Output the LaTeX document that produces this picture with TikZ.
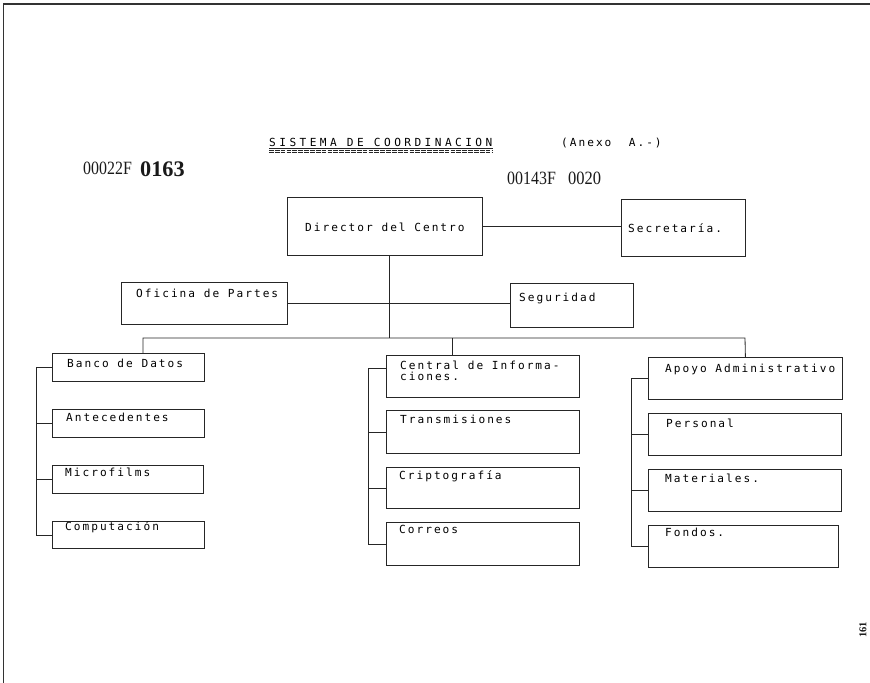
\documentclass[tikz,border=0pt]{standalone}
\usepackage{fontspec}
\newfontfamily\typewr[LetterSpace=18]{DejaVu Sans Mono}
\newfontfamily\typewrwide[LetterSpace=31]{DejaVu Sans Mono}
\newfontfamily\stampfont{Liberation Serif}
\newcommand{\pxu}{0.03cm}
\tikzset{
    unit/.style={draw=black!85, line width=0.7pt, rectangle, anchor=north west, inner sep=0pt},
    typed/.style={anchor=base west, inner sep=0pt, text=black, font=\typewr\fontsize{9.5}{11}\selectfont},
    stamp/.style={anchor=base west, inner sep=0pt, text=black!90},
    link/.style={draw=black!85, line width=0.7pt},
}
\begin{document}
\begin{tikzpicture}[x=\pxu, y=-\pxu]
        \useasboundingbox (0,0) rectangle (870,683);
        % edge of the scanned sheet
        \draw[line width=1.1pt, black!80] (3.5,683) -- (3.5,4) -- (870,4);

        \node[typed, font=\typewrwide\fontsize{9.5}{11}\selectfont] (Title) at (269,147) {SISTEMA DE COORDINACION};
        \draw[link] (Title.base west) ++(0,1.5) coordinate (TitleRule) -- (TitleRule -| Title.base east);
        \draw[link, dash pattern=on 4pt off 1pt] (Title.base west) ++(0,3.5) coordinate (TitleEqA) -- (TitleEqA -| Title.base east);
        \draw[link, dash pattern=on 4pt off 1pt] (Title.base west) ++(0,5.5) coordinate (TitleEqB) -- (TitleEqB -| Title.base east);
        \node[typed] (Anexo) at (561,147) {(Anexo~~A.-)};

        \node[stamp, xscale=0.85, font=\stampfont\fontsize{16}{16}\selectfont] (FolioA) at (83,175) {00022F};
        \node[stamp, font=\stampfont\bfseries\fontsize{19}{19}\selectfont] (FolioANum) at (140,177) {0163};
        \node[stamp, xscale=0.85, font=\stampfont\fontsize{16}{16}\selectfont] (FolioB) at (507,185) {00143F};
        \node[stamp, xscale=0.88, font=\stampfont\fontsize{16}{16}\selectfont] (FolioBNum) at (568,185) {0020};
        \node[stamp, anchor=center, rotate=90, font=\stampfont\bfseries\fontsize{9}{9}\selectfont] (Page) at (863,630) {161};

        % upper level
        \node[unit, minimum width=195*\pxu, minimum height=58*\pxu] (Director) at (287,197) {};
        \node[typed] (DirectorText) at (305,232) {Director del Centro};
        \node[unit, minimum width=124*\pxu, minimum height=57*\pxu] (Secretaria) at (621,199) {};
        \node[typed] (SecretariaText) at (628,233) {Secretaría.};
        \node[unit, minimum width=166*\pxu, minimum height=42*\pxu] (Oficina) at (121,282) {};
        \node[typed] (OficinaText) at (136,298) {Oficina de Partes};
        \node[unit, minimum width=123*\pxu, minimum height=44*\pxu] (Seguridad) at (510,283) {};
        \node[typed] (SeguridadText) at (519,302) {Seguridad};

        % left column
        \node[unit, minimum width=152*\pxu, minimum height=28*\pxu] (Banco) at (52,353) {};
        \node[typed] (BancoText) at (67,367) {Banco de Datos};
        \node[unit, minimum width=152*\pxu, minimum height=28*\pxu] (Antecedentes) at (52,409) {};
        \node[typed] (AntecedentesText) at (66,421) {Antecedentes};
        \node[unit, minimum width=151*\pxu, minimum height=28*\pxu] (Microfilms) at (52,465) {};
        \node[typed] (MicrofilmsText) at (65,476) {Microfilms};
        \node[unit, minimum width=152*\pxu, minimum height=27*\pxu] (Computacion) at (52,521) {};
        \node[typed] (ComputacionText) at (65,530) {Computación};

        % middle column
        \node[unit, minimum width=193*\pxu, minimum height=42*\pxu] (Central) at (386,355) {};
        \node[typed] (CentralText) at (400,369) {Central de Informa-};
        \node[typed] (CentralTextB) at (400,380) {ciones.};
        \node[unit, minimum width=193*\pxu, minimum height=43*\pxu] (Transmisiones) at (386,410) {};
        \node[typed] (TransmisionesText) at (400,423) {Transmisiones};
        \node[unit, minimum width=193*\pxu, minimum height=41*\pxu] (Criptografia) at (386,467) {};
        \node[typed] (CriptografiaText) at (399,479) {Criptografía};
        \node[unit, minimum width=193*\pxu, minimum height=43*\pxu] (Correos) at (386,522) {};
        \node[typed] (CorreosText) at (399,533) {Correos};

        % right column
        \node[unit, minimum width=194*\pxu, minimum height=42*\pxu] (Apoyo) at (648,357) {};
        \node[typed] (ApoyoText) at (665,372) {Apoyo Administrativo};
        \node[unit, minimum width=193*\pxu, minimum height=42*\pxu] (Personal) at (648,413) {};
        \node[typed] (PersonalText) at (666,427) {Personal};
        \node[unit, minimum width=193*\pxu, minimum height=42*\pxu] (Materiales) at (648,469) {};
        \node[typed] (MaterialesText) at (665,482) {Materiales.};
        \node[unit, minimum width=190*\pxu, minimum height=42*\pxu] (Fondos) at (648,525) {};
        \node[typed] (FondosText) at (665,536) {Fondos.};

        % connections
        \draw[link] (Director.east) -- (Director.east -| Secretaria.west);
        \draw[link] (Oficina.east) -- (Oficina.east -| Seguridad.west);
        \coordinate (Hub) at (389,338);
        \coordinate (BusLeft) at (143,338);
        \coordinate (BusMid) at (452,338);
        \coordinate (BusRight) at (745,338);
        \draw[link] (Director.south -| Hub) -- (Hub);
        \draw[link] (BusLeft |- Banco.north) -- (BusLeft) -- (BusRight) -- (Apoyo.north);
        \draw[link] (BusMid) -- (BusMid |- Central.north);

        \draw[link] (Banco.west) -- ++(-16,0) coordinate (LeftSpine) |- (Computacion.west);
        \draw[link] (Antecedentes.west) -- (LeftSpine |- Antecedentes.west);
        \draw[link] (Microfilms.west) -- (LeftSpine |- Microfilms.west);

        \draw[link] (Central.north west) ++(0,13) -- ++(-18,0) coordinate (MidSpine) |- (Correos.west);
        \draw[link] (Transmisiones.west) -- (MidSpine |- Transmisiones.west);
        \draw[link] (Criptografia.west) -- (MidSpine |- Criptografia.west);

        \draw[link] (Apoyo.west) -- ++(-17,0) coordinate (RightSpine) |- (Fondos.west);
        \draw[link] (Personal.west) -- (RightSpine |- Personal.west);
        \draw[link] (Materiales.west) -- (RightSpine |- Materiales.west);
    \end{tikzpicture}
\end{document}
